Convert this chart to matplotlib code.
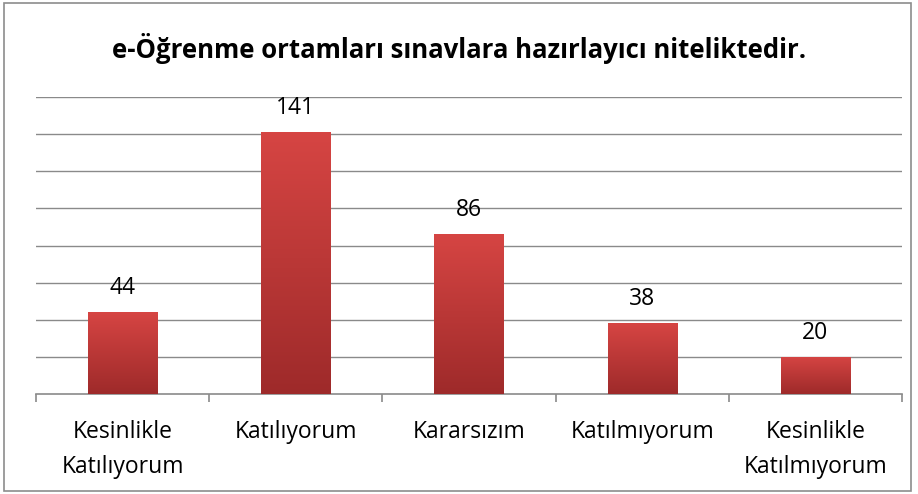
import numpy as np
import matplotlib
matplotlib.use("Agg")
import matplotlib.pyplot as plt
from matplotlib.patches import Rectangle

categories = ["Kesinlikle\nKatılıyorum", "Katılıyorum", "Kararsızım",
              "Katılmıyorum", "Kesinlikle\nKatılmıyorum"]
values = [44, 141, 86, 38, 20]
title = "e-Öğrenme ortamları sınavlara hazırlayıcı niteliktedir."

plt.rcParams['font.family'] = ['Open Sans', 'DejaVu Sans']

fig = plt.figure(figsize=(9.18, 4.94), dpi=100)
W, H = 918, 494
# outer chart border
fig.patches.append(Rectangle((4 / W, 3 / H), 907 / W, 488 / H, transform=fig.transFigure,
                             fill=False, edgecolor='#8c8c8c', linewidth=1.2))

ax = fig.add_axes([36 / W, 1 - 394 / H, 866 / W, 297 / H])
x = np.arange(len(values))
ax.set_xlim(-0.5, len(values) - 0.5)
ax.set_ylim(0, 160)

for y in range(20, 161, 20):
    ax.axhline(y, color='#8a8a8a', linewidth=1.0, zorder=0)

bars = ax.bar(x, values, width=0.40, color='#c0393b', zorder=2, linewidth=0)
grad = np.linspace(0, 1, 256).reshape(-1, 1)
cmap = matplotlib.colors.LinearSegmentedColormap.from_list('r', ['#9e2a2a', '#d64543'])
for b in bars:
    x0, w, h = b.get_x(), b.get_width(), b.get_height()
    im = ax.imshow(grad, extent=[x0, x0 + w, 0, h], origin='lower', cmap=cmap,
                   aspect='auto', zorder=3)
    im.set_clip_path(b)

for xi, v in zip(x, values):
    ax.text(xi, v + 9.7, str(v), ha='center', va='baseline', fontsize=16.5)

for s in ['top', 'right', 'left']:
    ax.spines[s].set_visible(False)
ax.spines['bottom'].set_color('#8a8a8a')
ax.spines['bottom'].set_linewidth(1.2)
ax.set_yticks([])
ax.set_xticks(np.arange(-0.5, len(values)), minor=False)
ax.set_xticklabels([])
ax.tick_params(axis='x', length=6, color='#8a8a8a', width=1.2)
for xi, c in zip(x, categories):
    ax.text(xi, -14, c, ha='center', va='top', fontsize=16.5, linespacing=1.62)
ax.set_xlim(-0.5, len(values) - 0.5)

fig.text(0.5, 1 - 48 / H, title, ha='center', va='center', fontsize=18.5, fontweight='bold')

fig.savefig("out.png", dpi=100)
